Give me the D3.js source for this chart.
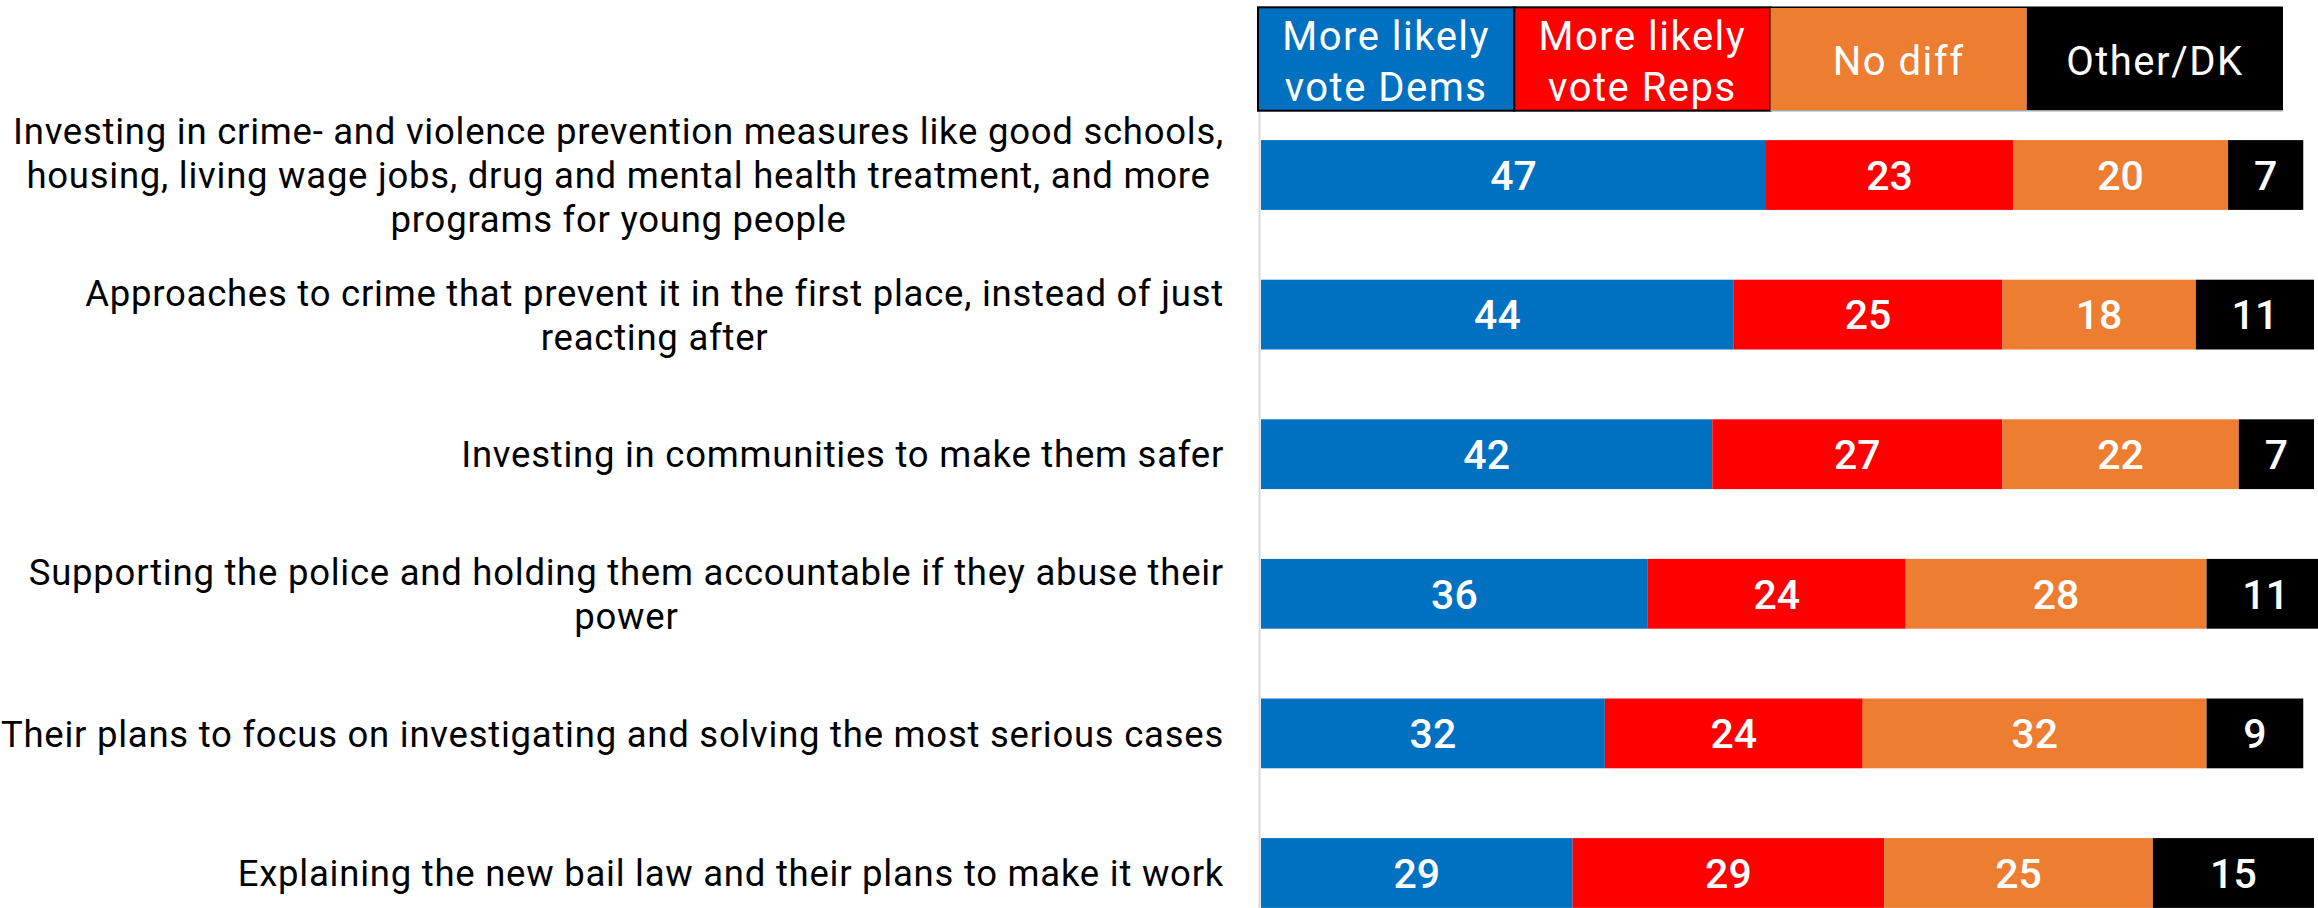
<!DOCTYPE html>
<html>
<head>
<meta charset="utf-8">
<script src="https://cdn.jsdelivr.net/npm/d3@7"></script>
<style>
  html, body { margin: 0; padding: 0; background: #ffffff; overflow: hidden; }
  svg { display: block; }
  text { font-family: Roboto, "Noto Sans", sans-serif; }
</style>
</head>
<body>
<svg id="chart" width="2318" height="908"></svg>
<script>
// Statements (line breaks as displayed)
const categories = [
  "Investing in crime- and violence prevention measures like good schools,\nhousing, living wage jobs, drug and mental health treatment, and more\nprograms for young people",
  "Approaches to crime that prevent it in the first place, instead of just\nreacting after",
  "Investing in communities to make them safer",
  "Supporting the police and holding them accountable if they abuse their\npower",
  "Their plans to focus on investigating and solving the most serious cases",
  "Explaining the new bail law and their plans to make it work"
];

// Series
const seriesNames  = ["More likely\nvote Dems", "More likely\nvote Reps", "No diff", "Other/DK"];
const seriesColors = ["#0070C0", "#FF0000", "#ED7D31", "#000000"];

// Percentages per statement
const dems    = [47, 44, 42, 36, 32, 29];
const reps    = [23, 25, 27, 24, 24, 29];
const noDiff  = [20, 18, 22, 28, 32, 25];
const otherDK = [ 7, 11,  7, 11,  9, 15];

const seriesValues = [dems, reps, noDiff, otherDK];
const keys = seriesNames.map((_, i) => "s" + i);

const table = categories.map((c, r) => {
  const row = { category: c, idx: r };
  keys.forEach((k, i) => { row[k] = seriesValues[i][r]; });
  return row;
});

const svg = d3.select("#chart");

// Scales
const x = d3.scaleLinear().domain([0, 100]).range([1261, 2335.5]);
const y = d3.scaleBand()
  .domain(d3.range(categories.length))
  .range([105.2, 942.8])
  .paddingInner(0.5)
  .paddingOuter(0.25);
const color = d3.scaleOrdinal().domain(keys).range(seriesColors);

// Vertical baseline
svg.append("line")
  .attr("x1", 1259.5).attr("x2", 1259.5)
  .attr("y1", 111).attr("y2", 908)
  .attr("stroke", "#d9d9d9").attr("stroke-width", 2);

// Stacked bars
const stacked = d3.stack().keys(keys)(table);

const layers = svg.append("g").selectAll("g")
  .data(stacked)
  .join("g")
  .attr("fill", d => color(d.key));

layers.selectAll("rect")
  .data(d => d)
  .join("rect")
  .attr("x", d => x(d[0]))
  .attr("y", d => y(d.data.idx))
  .attr("width", d => x(d[1]) - x(d[0]))
  .attr("height", y.bandwidth());

// Value labels
layers.selectAll("text")
  .data(d => d)
  .join("text")
  .attr("x", d => (x(d[0]) + x(d[1])) / 2)
  .attr("y", d => y(d.data.idx) + y.bandwidth() / 2)
  .attr("dy", "0.36em")
  .attr("text-anchor", "middle")
  .attr("fill", "#ffffff")
  .attr("font-size", 41)
  .attr("font-weight", 500)
  .text(d => d[1] - d[0]);

// Category labels: block right-aligned, lines centered within the block
const labelRight = 1224;
const lineHeight = 44;
const labelGroup = svg.append("g");
categories.forEach((c, r) => {
  const lines = c.split("\n");
  const g = labelGroup.append("g");
  const texts = lines.map((ln, i) =>
    g.append("text")
      .attr("font-size", 36.5)
      .attr("letter-spacing", 0.75)
      .attr("fill", "#000000")
      .attr("text-anchor", "middle")
      .attr("y", y(r) + y.bandwidth() / 2 + (i - (lines.length - 1) / 2) * lineHeight)
      .attr("dy", "0.36em")
      .text(ln)
  );
  const w = d3.max(texts, t => t.node().getComputedTextLength());
  texts.forEach(t => t.attr("x", labelRight - w / 2));
});

// Legend
const lx = d3.scaleBand().domain(keys).range([1258, 2283]);
const legendTop = 7.3, legendH = 103.4;
const legend = svg.append("g");
keys.forEach((k, i) => {
  legend.append("rect")
    .attr("x", lx(k)).attr("y", legendTop)
    .attr("width", lx.bandwidth()).attr("height", legendH)
    .attr("fill", color(k))
    .attr("stroke", i < 2 ? "#000000" : "none")
    .attr("stroke-width", 2);
});
legend.append("line")
  .attr("x1", lx(keys[2])).attr("x2", 2283)
  .attr("y1", legendTop).attr("y2", legendTop)
  .attr("stroke", "#000000").attr("stroke-width", 1.5);
legend.append("line")
  .attr("x1", lx(keys[2])).attr("x2", 2283)
  .attr("y1", legendTop + legendH).attr("y2", legendTop + legendH)
  .attr("stroke", "#a6a6a6").attr("stroke-width", 1.5);
keys.forEach((k, i) => {
  const lines = seriesNames[i].split("\n");
  const cx = lx(k) + lx.bandwidth() / 2;
  const cy = 61;
  lines.forEach((ln, j) => {
    legend.append("text")
      .attr("x", cx)
      .attr("y", cy + (j - (lines.length - 1) / 2) * 50.7)
      .attr("dy", "0.36em")
      .attr("text-anchor", "middle")
      .attr("fill", "#ffffff")
      .attr("font-size", 40)
      .attr("letter-spacing", 1.5)
      .text(ln);
  });
});
</script>
</body>
</html>
